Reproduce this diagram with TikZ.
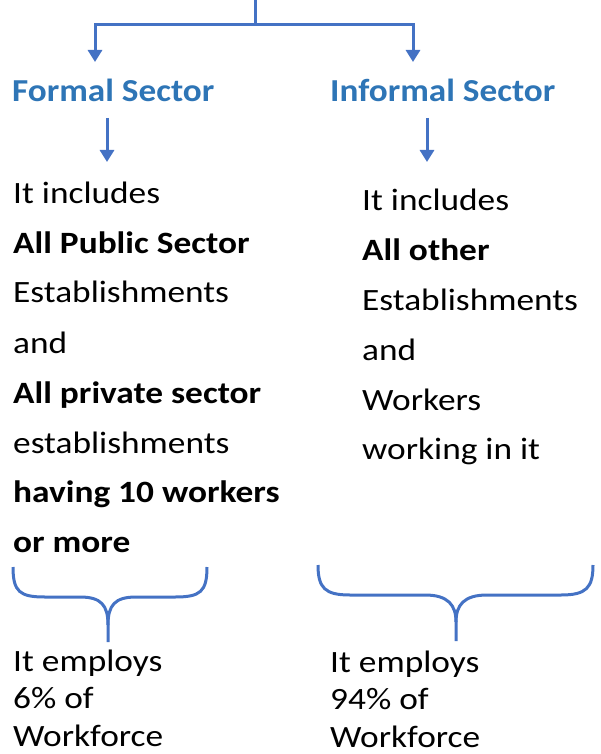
\documentclass[tikz,border=0pt]{standalone}
\usepackage{graphicx}
\usepackage{fontspec}
\setmainfont{Carlito}
\usetikzlibrary{arrows.meta}
\definecolor{lineblue}{HTML}{4472C4}
\definecolor{headblue}{HTML}{2E75B6}
\newcommand\bx[1]{\scalebox{1.14}[1]{#1}}
\newcommand\hx[1]{\scalebox{1.10}[1]{#1}}
\begin{document}
\begin{tikzpicture}[x=1pt,y=-1pt,
  conn/.style={draw=lineblue,line width=3pt},
  arr/.style={conn,-{Triangle[width=14pt,length=12pt]}},
  head/.style={anchor=base west,inner sep=0pt,font=\fontsize{32}{32}\selectfont\bfseries,text=headblue},
  body/.style={anchor=base west,inner sep=0pt,font=\fontsize{31}{31}\selectfont},
  bodyb/.style={body,font=\fontsize{31}{31}\selectfont\bfseries},
  foot/.style={anchor=base west,inner sep=0pt,font=\fontsize{31}{31}\selectfont}]
\useasboundingbox (0,0) rectangle (600,754);
% top connector
\coordinate (top) at (255,0);
\coordinate (junc) at (255,25);
\coordinate (fa) at (95,62);
\coordinate (ia) at (413,62);
\draw[conn] (top) -- (junc);
\draw[arr] (junc) -| (fa);
\draw[arr] (junc) -| (ia);
% headings
\node[head] (formal) at (12,102) {\hx{Formal Sector}};
\node[head] (informal) at (330,102) {\hx{Informal Sector}};
\coordinate (fs) at (107,118);
\coordinate (fe) at (107,162);
\coordinate (is) at (427,118);
\coordinate (ie) at (427,162);
\draw[arr] (fs) -- (fe);
\draw[arr] (is) -- (ie);
% left body
\node[body] (l1) at (13,204) {\bx{It includes}};
\node[bodyb] (l2) at (13,253) {\bx{All Public Sector}};
\node[body] (l3) at (13,302) {\bx{Establishments}};
\node[body] (l4) at (13,353) {\bx{and}};
\node[bodyb] (l5) at (13,403) {\bx{All private sector}};
\node[body] (l6) at (13,453) {\bx{establishments}};
\node[bodyb] (l7) at (13,502) {\bx{having 10 workers}};
\node[bodyb] (l8) at (13,552) {\bx{or more}};
% right body
\node[body] (r1) at (362,210) {\bx{It includes}};
\node[bodyb] (r2) at (362,260) {\bx{All other}};
\node[body] (r3) at (362,310) {\bx{Establishments}};
\node[body] (r4) at (362,360) {\bx{and}};
\node[body] (r5) at (362,410) {\bx{Workers}};
\node[body] (r6) at (362,459) {\bx{working in it}};
% braces
\draw[conn] (13,567) .. controls (13,592) and (20,597) .. (45,597) -- (80,597)
  .. controls (101,597) and (108,605) .. (108,625) -- (108,642);
\draw[conn] (207,567) .. controls (207,592) and (200,597) .. (175,597) -- (136,597)
  .. controls (115,597) and (108,605) .. (108,625);
\draw[conn] (318,565) .. controls (318,588) and (325,595) .. (350,595) -- (425,595)
  .. controls (448,595) and (456,605) .. (456,622) -- (456,641);
\draw[conn] (593,565) .. controls (593,588) and (586,595) .. (561,595) -- (487,595)
  .. controls (464,595) and (456,605) .. (456,622);
% bottom
\node[foot] (b1) at (13,671) {\bx{It employs}};
\node[foot] (b2) at (13,708) {\bx{6\% of}};
\node[foot] (b3) at (13,746) {\bx{Workforce}};
\node[foot] (c1) at (330,672) {\bx{It employs}};
\node[foot] (c2) at (330,709) {\bx{94\% of}};
\node[foot] (c3) at (330,747) {\bx{Workforce}};
\end{tikzpicture}
\end{document}
